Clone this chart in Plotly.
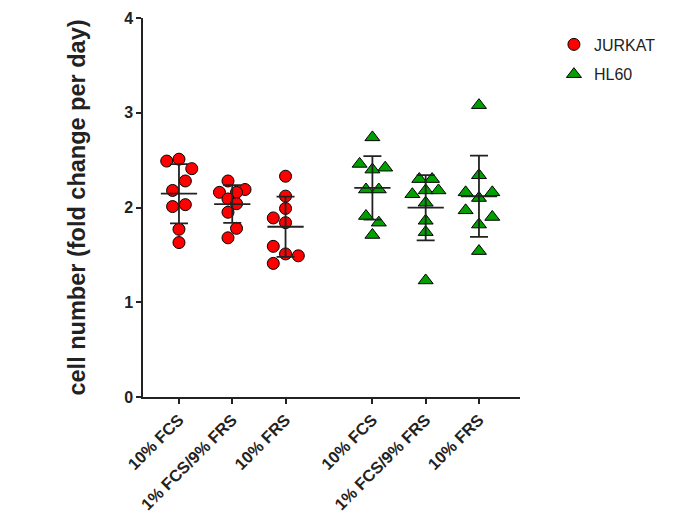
import numpy as np
import plotly.graph_objs as go

# Category labels and their x positions (two cell lines, gap between them)
conditions = ['10% FCS', '1% FCS/9% FRS', '10% FRS']
jurkat_pos = [1, 2, 3]
hl60_pos = [4.63, 5.63, 6.63]

# Fold change per day, 9 replicates per condition
jurkat_fcs = [2.49, 2.51, 2.41, 2.28, 2.18, 2.01, 2.03, 1.77, 1.63]
jurkat_mix = [2.28, 2.19, 2.16, 2.16, 2.09, 2.04, 1.95, 1.78, 1.68]
jurkat_frs = [2.33, 2.12, 1.99, 1.89, 1.84, 1.59, 1.51, 1.49, 1.41]
hl60_fcs = [2.74, 2.46, 2.42, 2.40, 2.19, 2.19, 1.91, 1.84, 1.71]
hl60_mix = [2.30, 2.30, 2.14, 2.18, 2.18, 2.05, 1.86, 1.74, 1.23]
hl60_frs = [3.08, 2.34, 2.16, 2.16, 2.10, 1.97, 1.90, 1.82, 1.54]

# horizontal spread of the dots inside each column (category units)
jurkat_fcs_dx = [-0.23, 0, 0.24, 0.12, -0.12, -0.12, 0.12, 0, 0]
jurkat_mix_dx = [-0.08, 0.24, -0.24, 0.08, -0.08, 0.08, -0.08, 0.08, -0.08]
jurkat_frs_dx = [0, 0, 0, -0.23, 0, -0.23, 0, 0.24, -0.23]
hl60_fcs_dx = [0, -0.24, 0.24, 0, -0.12, 0.12, -0.12, 0.12, 0]
hl60_mix_dx = [-0.12, 0.12, -0.25, 0, 0.24, 0, 0, 0, 0]
hl60_frs_dx = [0, 0, -0.25, 0.25, 0, -0.25, 0.25, 0, 0]

jurkat = [jurkat_fcs, jurkat_mix, jurkat_frs]
jurkat_dx = [jurkat_fcs_dx, jurkat_mix_dx, jurkat_frs_dx]
hl60 = [hl60_fcs, hl60_mix, hl60_frs]
hl60_dx = [hl60_fcs_dx, hl60_mix_dx, hl60_frs_dx]

FONT = 'Liberation Sans'
fig = go.Figure()


def add_cell_line(name, groups, offsets, positions, symbol, colour, size):
    xs, ys = [], []
    for vals, dx, p in zip(groups, offsets, positions):
        xs += [p + d for d in dx]
        ys += vals
    fig.add_trace(go.Scatter(
        x=xs, y=ys, mode='markers', name=name, legendgroup=name,
        marker=dict(symbol=symbol, size=size, color=colour,
                    line=dict(color='black', width=1))
    ))


def add_mean_sd(groups, positions):
    # mean line plus SD whiskers, drawn over the dots
    for vals, p in zip(groups, positions):
        m = np.mean(vals)
        sd = np.std(vals, ddof=1)
        fig.add_trace(go.Scatter(
            x=[p - 0.34, p + 0.34], y=[m, m], mode='lines',
            line=dict(color='#222', width=1.8), showlegend=False, hoverinfo='skip'
        ))
        fig.add_trace(go.Scatter(
            x=[p], y=[m], mode='markers', marker=dict(size=1, opacity=0),
            error_y=dict(type='data', array=[sd], width=9, thickness=1.8, color='#222'),
            showlegend=False, hoverinfo='skip'
        ))


add_cell_line('JURKAT', jurkat, jurkat_dx, jurkat_pos, 'circle', '#ff0000', 12)
add_cell_line('HL60', hl60, hl60_dx, hl60_pos, 'triangle-up', '#00a000', 13)
add_mean_sd(jurkat, jurkat_pos)
add_mean_sd(hl60, hl60_pos)

# page body has an 8px margin, so the figure is a bit smaller than the window
fig.update_layout(
    width=682, height=509,
    margin=dict(l=135, r=170, t=10, b=120),
    plot_bgcolor='white', paper_bgcolor='white',
    font=dict(family=FONT, color='#222'),
    legend=dict(x=1.09, y=0.975, xanchor='left', yanchor='top',
                font=dict(size=16, family=FONT), tracegroupgap=6),
    xaxis=dict(
        range=[0.325, 7.4], tickvals=jurkat_pos + hl60_pos,
        ticktext=conditions + conditions, tickangle=-45,
        tickfont=dict(size=16.5, weight='bold'),
        showline=True, linecolor='#222', linewidth=1.5,
        ticks='outside', ticklen=5, tickwidth=1.5, tickcolor='#222',
        showgrid=False, zeroline=False, automargin=False
    ),
    yaxis=dict(
        range=[0, 4], tickvals=[0, 1, 2, 3, 4],
        tickfont=dict(size=16, weight='bold'),
        title=dict(text='cell number (fold change per day)',
                   font=dict(size=23.5, weight='bold'), standoff=32),
        showline=True, linecolor='#222', linewidth=1.5,
        ticks='outside', ticklen=5, tickwidth=1.5, tickcolor='#222',
        showgrid=False, zeroline=False, automargin=False
    )
)

fig.write_html('out.html')
